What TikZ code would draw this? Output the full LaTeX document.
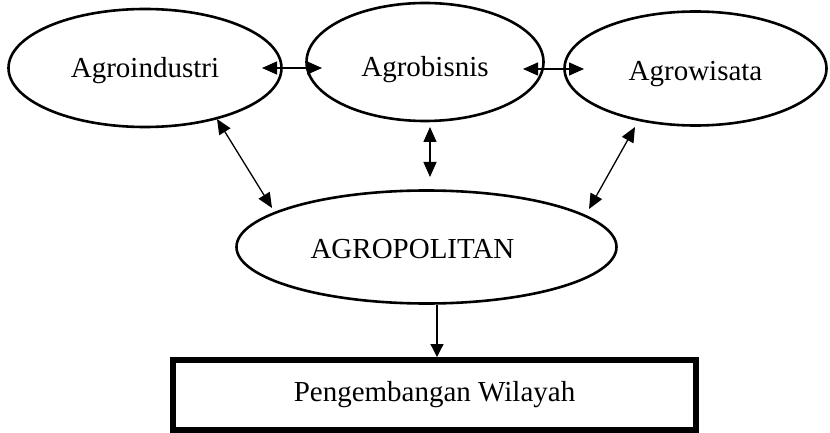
\documentclass[tikz,border=0pt]{standalone}
\usepackage{fontspec}
\setmainfont{Liberation Serif}
\usetikzlibrary{shapes.geometric,arrows.meta,calc}
\begin{document}
\begin{tikzpicture}[x=1pt,y=-1pt,
  oval/.style={draw, ellipse, line width=2.6pt, inner sep=0pt, text depth=0pt,
    font=\fontsize{29}{34}\selectfont},
  link/.style={line width=1.3pt, {Triangle[length=15pt,width=13pt]}-{Triangle[length=15pt,width=13pt]}},
  flow/.style={line width=1.3pt, -{Triangle[length=13pt,width=13pt]}},
  goal/.style={draw, rectangle, line width=6pt, inner sep=0pt,
    minimum width=523pt, minimum height=70pt,
    font=\fontsize{29}{34}\selectfont}]
\useasboundingbox (0,0) rectangle (830,433);

% the three sector ovals
\node[oval, minimum width=273pt, minimum height=118pt, text height=20pt] (ai) at (145,68) {Agroindustri};
\node[oval, minimum width=237pt, minimum height=118pt, text height=30pt] (ab) at (425,62) {Agrobisnis};
\node[oval, minimum width=262pt, minimum height=114pt, text height=25pt] (aw) at (695.5,68.5) {Agrowisata};

% central concept, its label sitting a little left of centre
\node[oval, minimum width=380pt, minimum height=113pt, text height=22pt] (ap) at (426.5,247) {AGROPOLITAN\hspace*{28pt}};

% outcome
\node[goal] (pw) at (434.5,395) {Pengembangan Wilayah};

% links between sectors
\draw[link] ($(ai.center)+(117,0)$) -- ($(ab.center)+(-103,6)$);
\draw[link] ($(ab.center)+(98,7)$) -- ($(aw.center)+(-111.5,0.5)$);

% links from sectors to the centre
\draw[link] ($(ab.center)+(5,65)$) -- ($(ap.center)+(3.5,-70)$);
\draw[link] ($(ai.center)+(72,51)$) -- ($(ap.center)+(-154.5,-39)$);
\draw[link] ($(aw.center)+(-60.5,58.5)$) -- ($(ap.center)+(162.5,-38)$);

% result
\draw[flow] ($(ap.south)+(10.5,0)$) -- ($(pw.north)+(2.5,0)$);
\end{tikzpicture}
\end{document}
